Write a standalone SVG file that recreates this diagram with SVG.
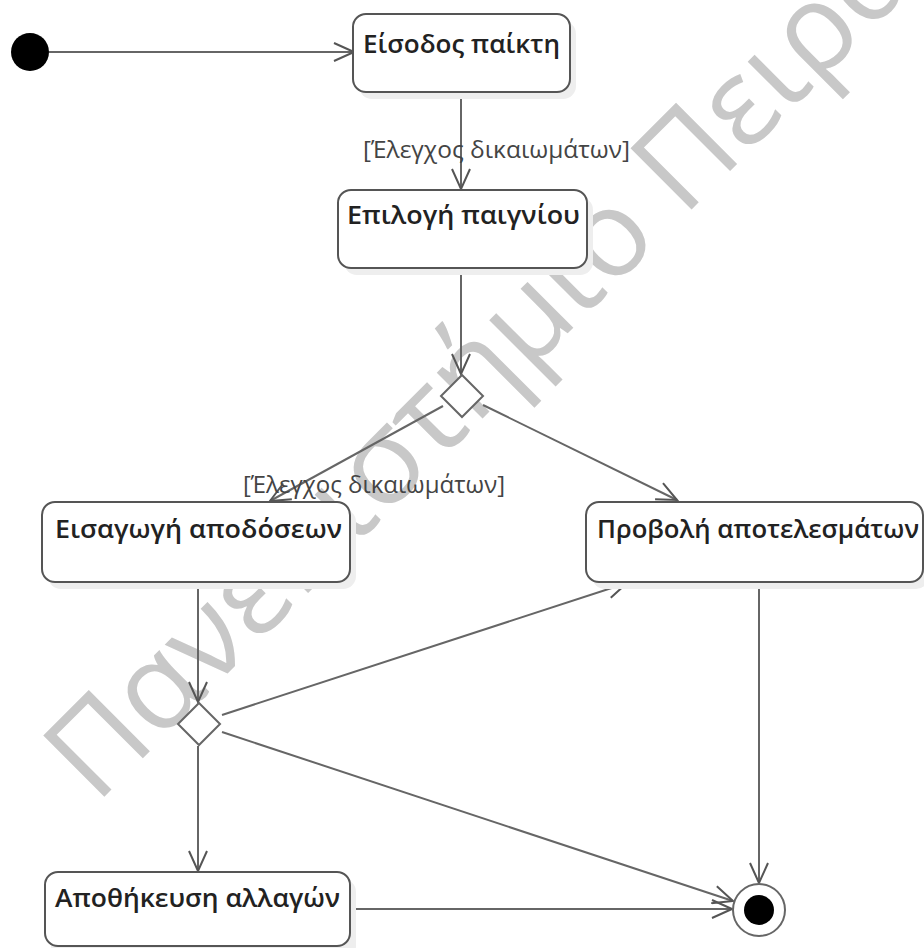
<svg xmlns="http://www.w3.org/2000/svg" width="924" height="948" viewBox="0 0 924 948">
  <style>
    .shadow { fill: #eeeeee; }
    .node { fill: #ffffff; stroke: #555555; stroke-width: 2; }
    .name { font-family: "Open Sans", "Noto Sans", "Liberation Sans", sans-serif; font-size: 26px; font-weight: 600; fill: #222222; }
    .guard { font-family: "Open Sans", "Noto Sans", "Liberation Sans", sans-serif; font-size: 23px; fill: #444444; }
    .edge { fill: none; stroke: #666666; stroke-width: 2; marker-end: url(#open); }
    .decision { fill: #ffffff; stroke: #666666; stroke-width: 2; }
    .mark { font-family: "Open Sans", "Noto Sans", "Liberation Sans", sans-serif; font-size: 121px; fill: #c8c8c8; }
  </style>
  <defs>
    <marker id="open" markerUnits="userSpaceOnUse" markerWidth="24" markerHeight="20" refX="22" refY="10" orient="auto" viewBox="0 0 24 20">
      <path d="M2 1 L22 10 L2 19" fill="none" stroke="#555555" stroke-width="2"/>
    </marker>
  </defs>

  <rect width="924" height="948" fill="#ffffff"/>

  <!-- background watermark -->
  <text class="mark" transform="translate(96,805) rotate(-45)">Πανεπιστήμιο Πειραιώς</text>

  <!-- transitions -->
  <g id="connectors">
    <path class="edge" d="M49 52 L354 52"/>
    <path class="edge" d="M461 92 L461 189"/>
    <path class="edge" d="M461 268 L461 374"/>
    <path class="edge" d="M443 406 L270 501"/>
    <path class="edge" d="M483 405 L677 500"/>
    <path class="edge" d="M198 582 L198 702"/>
    <path class="edge" d="M222 715 L627 583"/>
    <path class="edge" d="M222 732 L733 901"/>
    <path class="edge" d="M198 746 L198 871"/>
    <path class="edge" d="M350 909 L732 909"/>
    <path class="edge" d="M759 582 L759 883"/>
    <text class="guard" x="363" y="158" textLength="267" lengthAdjust="spacingAndGlyphs">[Έλεγχος δικαιωμάτων]</text>
    <text class="guard" x="243" y="493" textLength="262" lengthAdjust="spacingAndGlyphs">[Έλεγχος δικαιωμάτων]</text>
  </g>

  <g id="start">
    <circle cx="30" cy="52" r="19" fill="#000000"/>
  </g>

  <g id="player-login">
    <rect class="shadow" x="359" y="21" width="217" height="78" rx="13"/>
    <rect class="node" x="353" y="14" width="217" height="78" rx="13"/>
    <text class="name" x="363" y="53" textLength="197" lengthAdjust="spacingAndGlyphs">Είσοδος παίκτη</text>
  </g>

  <g id="game-select">
    <rect class="shadow" x="344" y="197" width="249" height="78" rx="13"/>
    <rect class="node" x="338" y="190" width="249" height="78" rx="13"/>
    <text class="name" x="347" y="224" textLength="233" lengthAdjust="spacingAndGlyphs">Επιλογή παιγνίου</text>
  </g>

  <g id="decision-1">
    <polygon class="decision" points="462,375 483,396 462,417 441,396"/>
  </g>

  <g id="enter-odds">
    <rect class="shadow" x="48" y="509" width="308" height="80" rx="13"/>
    <rect class="node" x="42" y="502" width="308" height="80" rx="13"/>
    <text class="name" x="55" y="538" textLength="287" lengthAdjust="spacingAndGlyphs">Εισαγωγή αποδόσεων</text>
  </g>

  <g id="show-results">
    <rect class="shadow" x="592" y="509" width="337" height="80" rx="13"/>
    <rect class="node" x="586" y="502" width="337" height="80" rx="13"/>
    <text class="name" x="597" y="538" textLength="322" lengthAdjust="spacingAndGlyphs">Προβολή αποτελεσμάτων</text>
  </g>

  <g id="decision-2">
    <polygon class="decision" points="199,703 220,724 199,745 178,724"/>
  </g>

  <g id="save-changes">
    <rect class="shadow" x="51" y="879" width="305" height="80" rx="13"/>
    <rect class="node" x="45" y="872" width="305" height="74" rx="13"/>
    <text class="name" x="55" y="907" textLength="285" lengthAdjust="spacingAndGlyphs">Αποθήκευση αλλαγών</text>
  </g>

  <g id="end">
    <circle cx="759" cy="910" r="26" fill="#ffffff" stroke="#666666" stroke-width="2"/>
    <circle cx="759" cy="910" r="15" fill="#000000"/>
  </g>
</svg>
